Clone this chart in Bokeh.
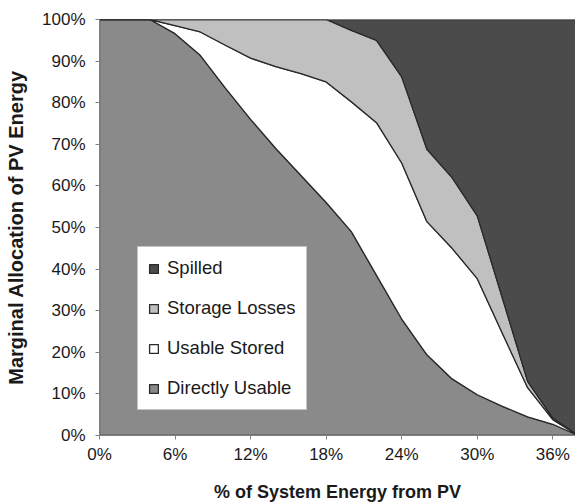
from bokeh.plotting import figure
from bokeh.models import Range1d, FixedTicker, PrintfTickFormatter, Legend, LegendItem
from bokeh.embed import file_html
from bokeh.resources import INLINE

# % of system energy from PV (x) and marginal allocation shares (%)
pv_share = [0, 2, 4, 6, 8, 10, 12, 14, 16, 18, 20, 22, 24, 26, 28, 30, 32, 34, 36, 38]
directly_usable = [100, 100, 100, 96.6, 91.4, 83.5, 76.0, 69.0, 62.5, 56.0,
                   49.0, 38.5, 28.0, 19.4, 13.6, 9.8, 7.0, 4.5, 2.7, 0]
usable_stored = [0, 0, 0, 1.9, 5.6, 10.3, 14.7, 19.7, 24.5, 29.0,
                 31.2, 36.7, 37.5, 32.0, 31.4, 27.9, 17.5, 7.0, 1.1, 0]
storage_losses = [0, 0, 0, 1.5, 3.0, 6.2, 9.3, 11.3, 13.0, 15.0,
                  17.2, 19.8, 20.7, 17.4, 17.0, 15.1, 8.5, 1.5, 0.4, 0]
spilled = [0, 0, 0, 0, 0, 0, 0, 0, 0, 0,
           2.6, 5.0, 13.8, 31.2, 38.0, 47.2, 67.0, 87.0, 95.8, 100]

series_names = ["Directly Usable", "Usable Stored", "Storage Losses", "Spilled"]
series_values = [directly_usable, usable_stored, storage_losses, spilled]
series_colors = ["#8a8a8a", "#ffffff", "#c0c0c0", "#4b4b4b"]

x_ticks = [0, 6, 12, 18, 24, 30, 36]
y_ticks = [0, 10, 20, 30, 40, 50, 60, 70, 80, 90, 100]

FONT = "Liberation Sans"

p = figure(width=575, height=504, output_backend="svg", toolbar_location=None,
           x_range=Range1d(0, 37.8), y_range=Range1d(0, 100),
           min_border_left=99, min_border_right=0, min_border_top=19, min_border_bottom=66)
p.outline_line_color = None
p.xgrid.grid_line_color = None
p.ygrid.grid_line_color = None

renderers = {}
lower = [0.0] * len(pv_share)
for name, vals, col in zip(series_names, series_values, series_colors):
    upper = [a + b for a, b in zip(lower, vals)]
    xs = list(pv_share) + list(pv_share[::-1])
    ys = upper + lower[::-1]
    r = p.patch(xs, ys, fill_color=col, line_color="#2a2a2a", line_width=1.3,
                line_join="round")
    renderers[name] = r
    lower = upper

items = [LegendItem(label=n, renderers=[renderers[n]]) for n in
         ["Spilled", "Storage Losses", "Usable Stored", "Directly Usable"]]
legend = Legend(items=items, location=(38, 25), orientation="vertical",
                glyph_width=11, glyph_height=11, label_height=20,
                label_standoff=8, spacing=18, padding=10,
                label_text_font=FONT, label_text_font_size="18.5px",
                label_text_color="#1a1a1a",
                border_line_color="#888888", border_line_width=1,
                background_fill_color="#ffffff", background_fill_alpha=1.0)
p.add_layout(legend, "center")

for ax in (p.xaxis[0], p.yaxis[0]):
    ax.axis_line_color = "#808080"
    ax.major_tick_line_color = "#808080"
    ax.major_tick_out = 4
    ax.major_tick_in = 0
    ax.minor_tick_line_color = None
    ax.major_label_text_font = FONT
    ax.major_label_text_font_size = "17px"
    ax.major_label_text_color = "#1a1a1a"
    ax.axis_label_text_font = FONT
    ax.axis_label_text_font_style = "bold"
    ax.axis_label_text_color = "#1a1a1a"

p.xaxis.ticker = FixedTicker(ticks=x_ticks)
p.yaxis.ticker = FixedTicker(ticks=y_ticks)
p.xaxis.formatter = PrintfTickFormatter(format="%d%%")
p.yaxis.formatter = PrintfTickFormatter(format="%d%%")
p.xaxis.axis_label = "% of System Energy from PV"
p.yaxis.axis_label = "Marginal Allocation of PV Energy"
p.xaxis.axis_label_text_font_size = "18px"
p.yaxis.axis_label_text_font_size = "20px"
p.xaxis.major_label_standoff = 5
p.yaxis.major_label_standoff = 10
p.xaxis.axis_label_standoff = 15
p.yaxis.axis_label_standoff = 12

open("out.html", "w").write(file_html(p, INLINE))
